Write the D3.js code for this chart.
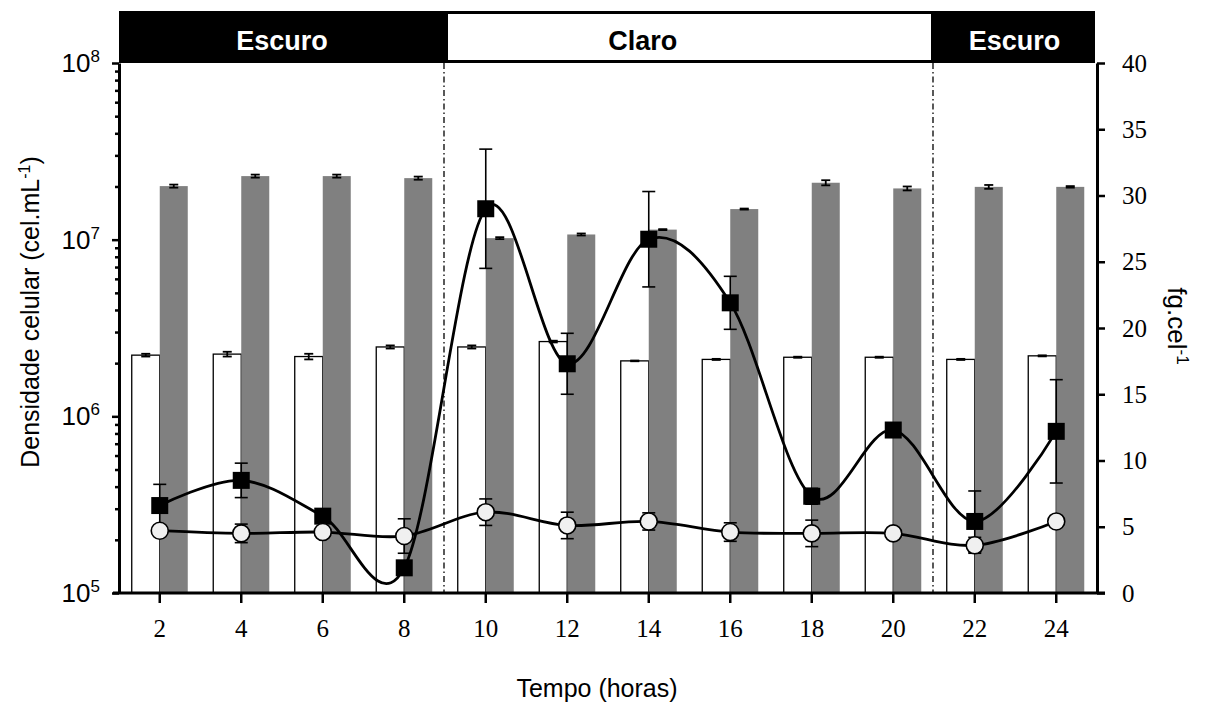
<!DOCTYPE html>
<html>
<head>
<meta charset="utf-8">
<script src="https://cdn.jsdelivr.net/npm/d3@7"></script>
<style>
  body { margin: 0; background: #fff; }
</style>
</head>
<body>
<script>
// tempo (horas)
var hours = [2, 4, 6, 8, 10, 12, 14, 16, 18, 20, 22, 24];

// densidade celular (cel.mL-1) - barras brancas e cinzas
var densWhite    = [2.22e6, 2.25e6, 2.18e6, 2.47e6, 2.47e6, 2.65e6, 2.06e6, 2.10e6, 2.16e6, 2.16e6, 2.10e6, 2.20e6];
var densWhiteErr = [0.04e6, 0.07e6, 0.08e6, 0.05e6, 0.05e6, 0.03e6, 0.01e6, 0.015e6, 0.015e6, 0.015e6, 0.015e6, 0.015e6];
var densGray     = [2.01e7, 2.29e7, 2.29e7, 2.23e7, 1.02e7, 1.07e7, 1.14e7, 1.49e7, 2.10e7, 1.95e7, 1.99e7, 1.99e7];
var densGrayErr  = [0.04e7, 0.045e7, 0.045e7, 0.045e7, 0.013e7, 0.014e7, 0.007e7, 0.01e7, 0.07e7, 0.05e7, 0.05e7, 0.02e7];

// fg.cel-1 - linhas
var fgSquare    = [6.6, 8.5, 5.8, 1.9, 29.0, 17.3, 26.7, 21.9, 7.3, 12.3, 5.4, 12.2];
var fgSquareErr = [1.6, 1.3, 0.4, 0.4, 4.5, 2.3, 3.6, 2.0, 0.6, 0.4, 2.3, 3.9];
var fgCircle    = [4.7, 4.5, 4.6, 4.3, 6.1, 5.1, 5.4, 4.6, 4.5, 4.5, 3.6, 5.4];
var fgCircleErr = [0.3, 0.7, 0.3, 1.3, 1.0, 1.0, 0.65, 0.7, 1.0, 0.3, 0.6, 0.2];

// fases claro / escuro
var phaseLabels = ["Escuro", "Claro", "Escuro"];
var phaseStart  = [2, 10, 22];

// ticks
var densMajor = [1e5, 1e6, 1e7, 1e8];
var densExp   = [5, 6, 7, 8];
var densMinor = [2e5, 3e5, 4e5, 5e5, 6e5, 7e5, 8e5, 9e5,
                 2e6, 3e6, 4e6, 5e6, 6e6, 7e6, 8e6, 9e6,
                 2e7, 3e7, 4e7, 5e7, 6e7, 7e7, 8e7, 9e7];
var fgTicks = [0, 5, 10, 15, 20, 25, 30, 35, 40];

var svgWidth = 1207;
var svgHeight = 709;

var margin = {
  top: 63,
  right: 110,
  bottom: 116,
  left: 119
};

var width = svgWidth - margin.left - margin.right;
var height = svgHeight - margin.top - margin.bottom;

var svg = d3.select("body")
            .append("svg")
            .attr("width", svgWidth)
            .attr("height", svgHeight);

var chartGroup = svg.append("g")
                    .attr("transform", `translate(${margin.left}, ${margin.top})`);

var xScale = d3.scaleBand()
               .domain(hours)
               .range([0, width]);

var bw = xScale.bandwidth();

var xSub = d3.scaleBand()
             .domain(["white", "gray"])
             .range([0, bw])
             .paddingOuter(0.455);

var yLog = d3.scaleLog()
             .domain([1e5, 1e8])
             .range([height, 0]);

var yFg = d3.scaleLinear()
            .domain([0, 40])
            .range([height, 0]);

var cx = h => xScale(h) + bw / 2;

// faixa claro / escuro
var phases = phaseLabels.map(function(label, i) {
  var x0 = i === 0 ? 0 : xScale(phaseStart[i]);
  var x1 = i === phaseLabels.length - 1 ? width - 2 : xScale(phaseStart[i + 1]);
  return {label: label, x0: x0, x1: x1, dark: label === "Escuro"};
});

var banner = chartGroup.append("g");

banner.selectAll("rect")
  .data(phases)
  .enter()
  .append("rect")
  .attr("x", d => d.x0 + (d.dark ? 0 : 1.5))
  .attr("y", d => -52 + (d.dark ? 0 : 1.5))
  .attr("width", d => d.x1 - d.x0 - (d.dark ? 0 : 3))
  .attr("height", d => 52 - (d.dark ? 0 : 3))
  .attr("fill", d => d.dark ? "#000" : "#fff")
  .attr("stroke", d => d.dark ? "none" : "#000")
  .attr("stroke-width", 3);

banner.selectAll("text")
  .data(phases)
  .enter()
  .append("text")
  .attr("x", d => d.dark ? (d.x0 + d.x1) / 2 : cx(14) - 6)
  .attr("y", -13)
  .attr("text-anchor", "middle")
  .attr("font-family", "Liberation Sans, Arial, sans-serif")
  .attr("font-weight", "bold")
  .attr("font-size", 27)
  .attr("fill", d => d.dark ? "#fff" : "#000")
  .text(d => d.label);

// barras
var barGroup = chartGroup.append("g");

barGroup.selectAll(".bar-white")
  .data(hours)
  .enter()
  .append("rect")
  .attr("class", "bar-white")
  .attr("x", h => xScale(h) + xSub("white"))
  .attr("y", (h, i) => yLog(densWhite[i]))
  .attr("width", xSub.bandwidth())
  .attr("height", (h, i) => height - yLog(densWhite[i]))
  .attr("fill", "#fff")
  .attr("stroke", "#000")
  .attr("stroke-width", 1.3);

barGroup.selectAll(".bar-gray")
  .data(hours)
  .enter()
  .append("rect")
  .attr("class", "bar-gray")
  .attr("x", h => xScale(h) + xSub("gray"))
  .attr("y", (h, i) => yLog(densGray[i]))
  .attr("width", xSub.bandwidth())
  .attr("height", (h, i) => height - yLog(densGray[i]))
  .attr("fill", "#808080");

function errorBars(group, xs, ys, errs, yScale, cap, sw) {
  var g = group.append("g")
    .attr("stroke", "#000")
    .attr("stroke-width", sw);
  hours.forEach(function(h, i) {
    var x = xs(h);
    var yTop = yScale(ys[i] + errs[i]);
    var yBot = yScale(Math.max(ys[i] - errs[i], yScale.domain()[0]));
    g.append("line").attr("x1", x).attr("x2", x).attr("y1", yTop).attr("y2", yBot);
    g.append("line").attr("x1", x - cap / 2).attr("x2", x + cap / 2).attr("y1", yTop).attr("y2", yTop);
    g.append("line").attr("x1", x - cap / 2).attr("x2", x + cap / 2).attr("y1", yBot).attr("y2", yBot);
  });
}

errorBars(barGroup, h => xScale(h) + xSub("white") + xSub.bandwidth() / 2, densWhite, densWhiteErr, yLog, 9, 1.8);
errorBars(barGroup, h => xScale(h) + xSub("gray") + xSub.bandwidth() / 2, densGray, densGrayErr, yLog, 9, 1.8);

// linhas divisorias
chartGroup.selectAll(".divider")
  .data(phaseStart.slice(1))
  .enter()
  .append("line")
  .attr("class", "divider")
  .attr("x1", h => xScale(h) - 1)
  .attr("x2", h => xScale(h) - 1)
  .attr("y1", 0)
  .attr("y2", height)
  .attr("stroke", "#000")
  .attr("stroke-width", 1.3)
  .attr("stroke-dasharray", "6,3,1.5,3");

// linhas fg.cel-1
var lineGroup = chartGroup.append("g");

errorBars(lineGroup, cx, fgSquare, fgSquareErr, yFg, 13, 1.6);
errorBars(lineGroup, cx, fgCircle, fgCircleErr, yFg, 13, 1.6);

var line = d3.line()
             .x(d => cx(d.h))
             .y(d => yFg(d.v))
             .curve(d3.curveCardinal.tension(0));

var squareData = hours.map((h, i) => ({h: h, v: fgSquare[i]}));
var circleData = hours.map((h, i) => ({h: h, v: fgCircle[i]}));

lineGroup.append("path")
  .datum(circleData)
  .attr("d", line)
  .attr("fill", "none")
  .attr("stroke", "#000")
  .attr("stroke-width", 2.8);

lineGroup.append("path")
  .datum(squareData)
  .attr("d", line)
  .attr("fill", "none")
  .attr("stroke", "#000")
  .attr("stroke-width", 2.8);

lineGroup.selectAll(".sq")
  .data(squareData)
  .enter()
  .append("rect")
  .attr("class", "sq")
  .attr("x", d => cx(d.h) - 8.5)
  .attr("y", d => yFg(d.v) - 8.5)
  .attr("width", 17)
  .attr("height", 17)
  .attr("fill", "#000");

lineGroup.selectAll(".ci")
  .data(circleData)
  .enter()
  .append("circle")
  .attr("class", "ci")
  .attr("cx", d => cx(d.h))
  .attr("cy", d => yFg(d.v))
  .attr("r", 8.5)
  .attr("fill", "#f0f0f0")
  .attr("stroke", "#000")
  .attr("stroke-width", 1.6);

// eixos
var leftMinor = d3.axisLeft(yLog).tickValues(densMinor).tickSize(4).tickFormat("");
var leftMajor = d3.axisLeft(yLog).tickValues(densMajor).tickSize(7).tickSizeOuter(0).tickFormat("");
var rightAxis = d3.axisRight(yFg).tickValues(fgTicks).tickSize(8).tickSizeOuter(0).tickPadding(17);
var bottomAxis = d3.axisBottom(xScale).tickSize(10).tickSizeOuter(0).tickPadding(16);

var gMinor = chartGroup.append("g").call(leftMinor);
gMinor.select(".domain").remove();

var gLeft = chartGroup.append("g").call(leftMajor);

var gRight = chartGroup.append("g")
  .attr("transform", `translate(${width}, 0)`)
  .call(rightAxis);

var gBottom = chartGroup.append("g")
  .attr("transform", `translate(0, ${height})`)
  .call(bottomAxis);
gBottom.select(".domain").remove();

chartGroup.append("line")
  .attr("x1", -6)
  .attr("x2", width + 8)
  .attr("y1", height)
  .attr("y2", height)
  .attr("stroke", "#000")
  .attr("stroke-width", 3);

[gMinor, gLeft, gRight, gBottom].forEach(function(g) {
  g.selectAll(".domain").attr("stroke-width", 3);
  g.selectAll(".tick line").attr("stroke-width", 2.5);
});

gRight.selectAll("text")
  .attr("font-family", "Liberation Serif, Times New Roman, serif")
  .attr("font-size", 25)
  .attr("fill", "#000");

gBottom.selectAll("text")
  .attr("font-family", "Liberation Serif, Times New Roman, serif")
  .attr("font-size", 25)
  .attr("fill", "#000");

// rotulos log 10^n
var logLabels = chartGroup.selectAll(".loglabel")
  .data(densMajor)
  .enter()
  .append("text")
  .attr("class", "loglabel")
  .attr("x", -19)
  .attr("y", d => yLog(d) + 9)
  .attr("text-anchor", "end")
  .attr("font-family", "Liberation Sans, Arial, sans-serif")
  .attr("font-size", 26);

logLabels.append("tspan").text("10");
logLabels.append("tspan")
  .attr("dy", -10)
  .attr("font-size", 17)
  .text((d, i) => densExp[i]);

// titulos dos eixos
var leftTitle = svg.append("text")
  .attr("transform", "translate(39, 312) rotate(-90)")
  .attr("text-anchor", "middle")
  .attr("font-family", "Liberation Sans, Arial, sans-serif")
  .attr("font-size", 25);
leftTitle.append("tspan").text("Densidade celular (cel.mL");
leftTitle.append("tspan").attr("dy", -9).attr("font-size", 16).text("-1");
leftTitle.append("tspan").attr("dy", 9).text(")");

svg.append("text")
  .attr("x", 597)
  .attr("y", 697)
  .attr("text-anchor", "middle")
  .attr("font-family", "Liberation Sans, Arial, sans-serif")
  .attr("font-size", 25)
  .text("Tempo (horas)");

var rightTitle = svg.append("text")
  .attr("transform", "translate(1168, 326) rotate(90)")
  .attr("text-anchor", "middle")
  .attr("font-family", "Liberation Sans, Arial, sans-serif")
  .attr("font-size", 26);
rightTitle.append("tspan").text("fg.cel");
rightTitle.append("tspan").attr("dy", -9).attr("font-size", 17).text("-1");
</script>
</body>
</html>
